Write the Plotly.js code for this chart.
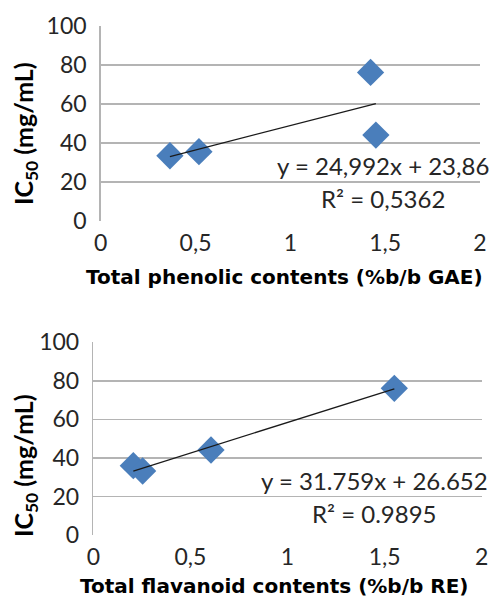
<!DOCTYPE html>
<html><head><meta charset="utf-8">
<script src="https://cdn.plot.ly/plotly-3.0.1.min.js"></script>
<style>html,body{margin:0;padding:0;background:#fff;}#chart{width:499px;height:597px;}</style>
</head><body><div id="chart"></div>
<script>
// Top chart: phenolic contents
const phenolicX = [0.365, 0.518, 1.423, 1.451];
const phenolicIC50 = [33.4, 35.5, 76.1, 44.0];
const phenolicFit = {slope: 24.992, intercept: 23.86};
const phenolicEq = ['y = 24,992x + 23,86', 'R² = 0,5362'];

// Bottom chart: flavanoid contents
const flavanoidX = [0.206, 0.254, 0.606, 1.55];
const flavanoidIC50 = [36.0, 33.2, 44.1, 76.1];
const flavanoidFit = {slope: 31.759, intercept: 26.652};
const flavanoidEq = ['y = 31.759x + 26.652', 'R² = 0.9895'];

const xTickVals = [0, 0.5, 1, 1.5, 2];
const xTickText = ['0', '0,5', '1', '1,5', '2'];
const yTickVals = [0, 20, 40, 60, 80, 100];

const W = 499, H = 597;
const blue = '#4a7ebb';
const grid = '#b4b4b4';
const tickFont = {family: 'Lato, "Open Sans", sans-serif', size: 23, color: '#262626'};
const eqFont = {family: 'Lato, "Open Sans", sans-serif', size: 24, color: '#262626'};

function fitLine(xs, fit) {
  const lo = Math.min(...xs), hi = Math.max(...xs);
  return {x: [lo, hi], y: [fit.slope * lo + fit.intercept, fit.slope * hi + fit.intercept]};
}

const f1 = fitLine(phenolicX, phenolicFit);
const f2 = fitLine(flavanoidX, flavanoidFit);

const traces = [
  {x: phenolicX, y: phenolicIC50, type: 'scatter', mode: 'markers', xaxis: 'x', yaxis: 'y',
   marker: {symbol: 'diamond', size: 21, color: blue}, cliponaxis: false},
  {x: f1.x, y: f1.y, type: 'scatter', mode: 'lines', xaxis: 'x', yaxis: 'y',
   line: {color: '#1a1a1a', width: 1.3}},
  {x: flavanoidX, y: flavanoidIC50, type: 'scatter', mode: 'markers', xaxis: 'x2', yaxis: 'y2',
   marker: {symbol: 'diamond', size: 21, color: blue}, cliponaxis: false},
  {x: f2.x, y: f2.y, type: 'scatter', mode: 'lines', xaxis: 'x2', yaxis: 'y2',
   line: {color: '#1a1a1a', width: 1.3}}
];

function xa(domain, anchor) {
  return {domain: domain, anchor: anchor, range: [0, 2], tickvals: xTickVals, ticktext: xTickText,
    showgrid: false, zeroline: false, showline: false, ticks: '', tickfont: tickFont,
    ticklabelstandoff: 6, fixedrange: true};
}
function ya(domain, anchor) {
  return {domain: domain, anchor: anchor, range: [0, 100], tickvals: yTickVals,
    showgrid: true, gridcolor: grid, gridwidth: 1.5, zeroline: false,
    showline: true, linecolor: grid, linewidth: 1.5, ticks: '', tickfont: tickFont,
    ticklabelstandoff: 8, fixedrange: true};
}

function px(x) { return x / W; }
function py(y) { return 1 - y / H; }

const titleFontY = {family: 'Lato, "Open Sans", sans-serif', size: 25, color: '#000'};
const titleFontX = {family: '"DejaVu Sans", Verdana, sans-serif', size: 20, color: '#000'};
const C = {xanchor: 'center', yanchor: 'middle', showarrow: false};

const annotations = [
  Object.assign({xref: 'x', yref: 'y', x: 1.488, y: 28.3, text: phenolicEq[0], font: eqFont}, C),
  Object.assign({xref: 'x', yref: 'y', x: 1.488, y: 11.3, text: phenolicEq[1], font: eqFont}, C),
  Object.assign({xref: 'x2', yref: 'y2', x: 1.448, y: 28.5, text: flavanoidEq[0], font: eqFont}, C),
  Object.assign({xref: 'x2', yref: 'y2', x: 1.448, y: 11.4, text: flavanoidEq[1], font: eqFont}, C),
  Object.assign({xref: 'paper', yref: 'paper', x: px(25), y: py(134), textangle: -90,
   text: '<b>IC<sub>50</sub> (mg/mL)</b>', font: titleFontY}, C),
  Object.assign({xref: 'paper', yref: 'paper', x: px(25), y: py(466), textangle: -90,
   text: '<b>IC<sub>50</sub> (mg/mL)</b>', font: titleFontY}, C),
  Object.assign({xref: 'paper', yref: 'paper', x: px(284.5), y: py(277),
   text: '<b>Total phenolic contents (%b/b GAE)</b>', font: titleFontX}, C),
  Object.assign({xref: 'paper', yref: 'paper', x: px(274), y: py(585.5),
   text: '<b>Total flavanoid contents (%b/b RE)</b>', font: titleFontX}, C)
];

const layout = {
  width: W, height: H,
  margin: {l: 0, r: 0, t: 0, b: 0},
  paper_bgcolor: '#ffffff', plot_bgcolor: '#ffffff',
  showlegend: false,
  xaxis: xa([px(100.7), px(480)], 'y'),
  yaxis: ya([py(221), py(25.7)], 'x'),
  xaxis2: xa([px(93.3), px(481.7)], 'y2'),
  yaxis2: ya([py(535), py(342.3)], 'x2'),
  annotations: annotations
};

Plotly.newPlot('chart', traces, layout, {displayModeBar: false, staticPlot: true});
</script></body></html>
